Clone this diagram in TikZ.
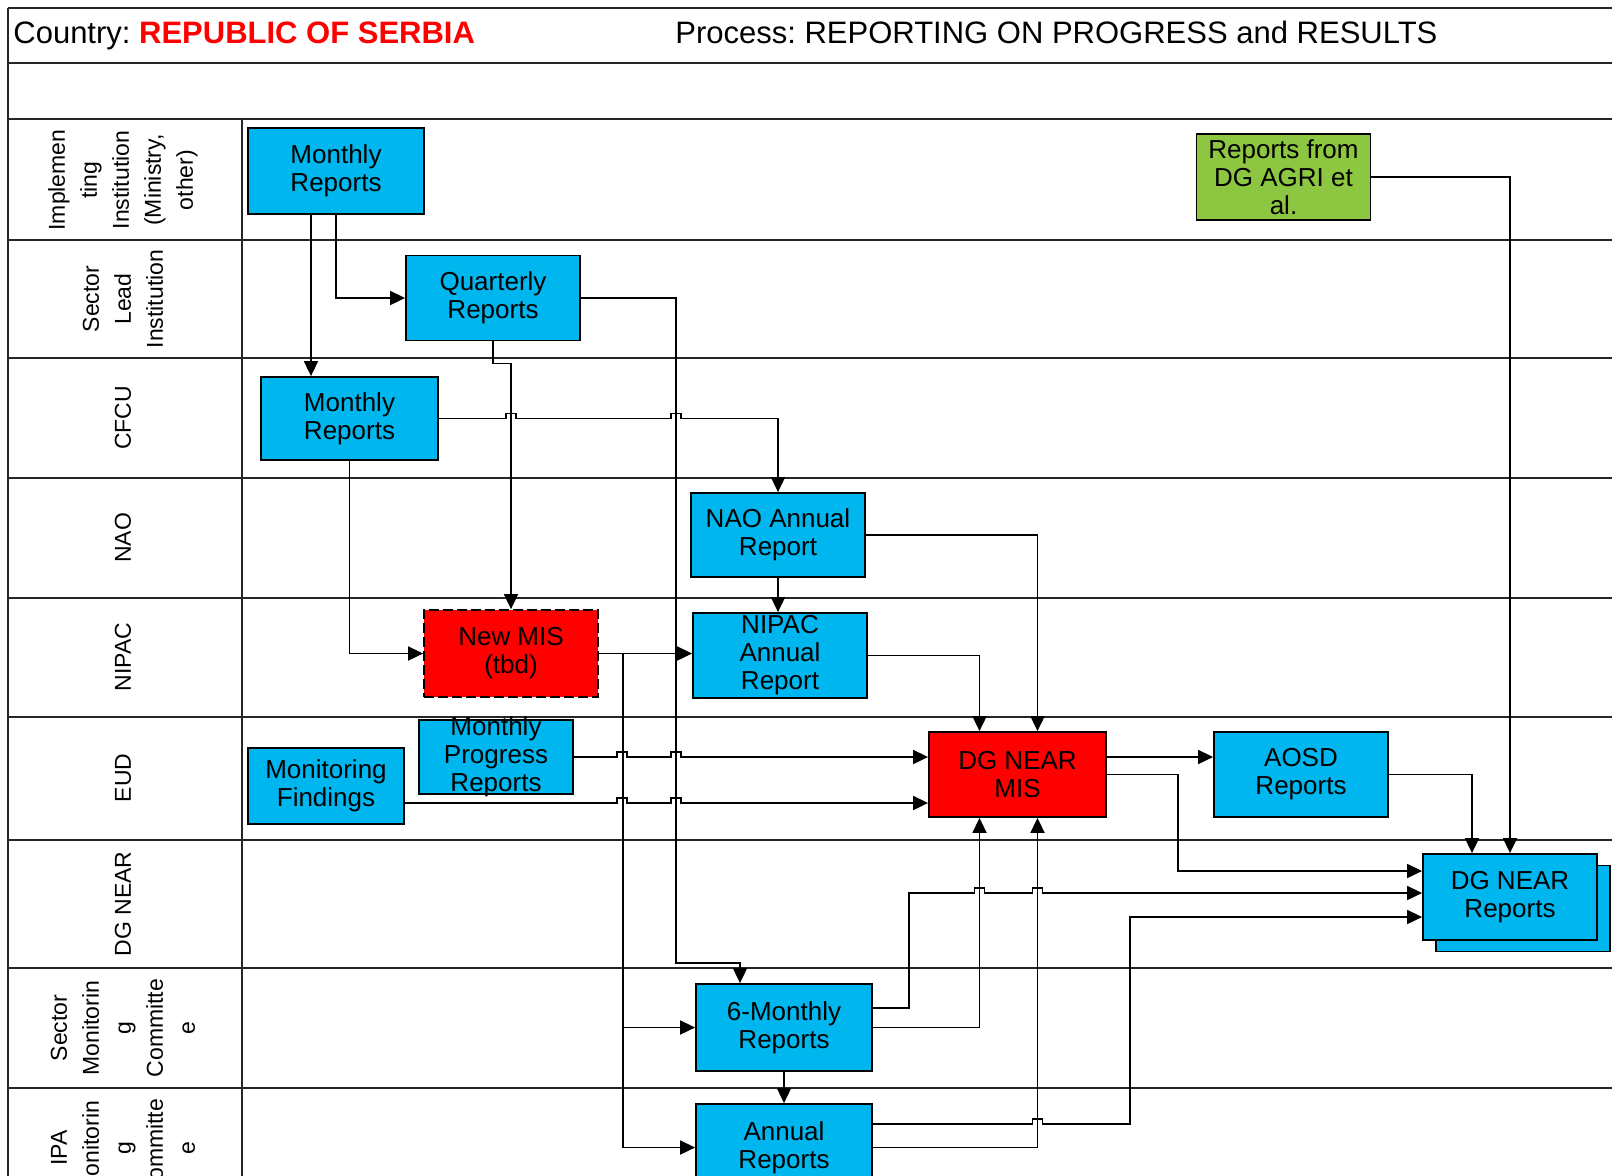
\documentclass[tikz,border=0pt]{standalone}
\usepackage{fontspec}
\setmainfont{Liberation Sans}
\usepackage{tikz}
\usetikzlibrary{arrows.meta}
\definecolor{repblue}{HTML}{00B6EE}
\definecolor{repred}{HTML}{FF0000}
\definecolor{repgreen}{HTML}{8DC640}
\newcommand{\linehop}[2]{
	-- (#1-5,#2) -- (#1-5,#2-5) -- (#1+5,#2-5) -- (#1+5,#2)
}
\frenchspacing

\begin{document}
\begin{tikzpicture}[x=0.5pt, y=-0.5pt,
	lanegrid/.style={line width=1pt, black!85},
	repbox/.style={draw, line width=.9pt, fill=repblue, minimum width=87pt, minimum height=42.5pt, inner sep=0pt, align=center, font=\fontsize{13}{14}\selectfont},
	boxtext/.style={align=center, inner sep=0pt, font=\fontsize{13}{14}\selectfont},
	lanelabel/.style={rotate=90, align=center, inner sep=0pt, font=\fontsize{11.5}{16}\selectfont},
	titletext/.style={anchor=base west, inner sep=0pt, font=\fontsize{15.5}{18}\selectfont},
	flow/.style={line width=.9pt, -{Triangle[length=7.5pt,width=7pt]}}]
\useasboundingbox (0,0) rectangle (1612,1175);
\clip (0,0) rectangle (1612,1175);

\foreach \y in {8,63,119,240,358,478,598,717,840,968,1088}
	\draw [lanegrid] (8,\y) -- (1620,\y);
\draw [lanegrid] (8,8) -- (8,1180);
\draw [lanegrid] (242,119) -- (242,1180);

\node [titletext] (country) at (13,43) {Country: \textcolor{repred}{\textbf{REPUBLIC OF SERBIA}}};
\node [titletext] (process) at (675,43) {Process: REPORTING ON PROGRESS and RESULTS};

\node [lanelabel] (laneImpl) at (123,180) {Implemen\\ting\\Institution\\(Ministry,\\other)};
\node [lanelabel] (laneSector) at (123,299) {Sector\\Lead\\Institution};
\node [lanelabel] (laneCfcu) at (123,418) {CFCU};
\node [lanelabel] (laneNao) at (123,538) {NAO};
\node [lanelabel] (laneNipac) at (123,657) {NIPAC};
\node [lanelabel] (laneEud) at (123,778) {EUD};
\node [lanelabel] (laneNear) at (123,904) {DG NEAR};
\node [lanelabel] (laneSmc) at (123,1028) {Sector\\Monitorin\\g\\Committe\\e};
\node [lanelabel] (laneIpa) at (123,1148) {IPA\\Monitorin\\g\\Committe\\e};

\node [repbox, minimum width=88pt, minimum height=43pt] (imMonthly) at (336,171) {Monthly\\Reports};
\node [repbox] (slQuarterly) at (493,298) {Quarterly\\Reports};
\node [repbox, minimum width=88.5pt, minimum height=41.5pt] (cfMonthly) at (349.5,418.5) {Monthly\\Reports};
\node [repbox, minimum height=42pt] (naoAnnual) at (778,535) {NAO Annual\\Report};
\node [repbox] (nipacAnnual) at (780,655.5) {NIPAC\\Annual\\Report};
\node [repbox, fill=repred, dash pattern=on 5pt off 2pt, minimum height=43.5pt] (newMis) at (511,653.5) {New MIS\\(tbd)};
\node [repbox, minimum width=77pt, minimum height=37pt] (eudProgress) at (496,757) {};
\node [boxtext] (eudProgressText) at (eudProgress) {Monthly\\Progress\\Reports};
\node [repbox, minimum width=78pt, minimum height=38pt] (eudFindings) at (326,786) {Monitoring\\Findings};
\node [repbox, fill=repred, minimum width=88.5pt] (dgMis) at (1017.5,774.5) {DG NEAR\\MIS};
\node [repbox] (aosd) at (1301,774.5) {AOSD\\Reports};
\node [repbox, minimum height=43pt] (dgReportsBack) at (1523,908.5) {};
\node [repbox, minimum height=43pt] (dgReports) at (1510,897) {DG NEAR\\Reports};
\node [repbox, fill=repgreen, minimum height=43pt] (agri) at (1283.5,177) {Reports from\\DG AGRI et\\al.};
\node [repbox, minimum width=88pt, minimum height=43.5pt] (smcSix) at (784,1027.5) {6-Monthly\\Reports};
\node [repbox, minimum width=88pt, minimum height=43.5pt] (ipaAnnual) at (784,1147.5) {Annual\\Reports};

\draw [flow] ([xshift=-12.5pt]imMonthly.south) -- ([xshift=-12.5pt]imMonthly.south |- cfMonthly.north);
\draw [flow] (imMonthly.south) |- (slQuarterly.west);
\draw [flow] (slQuarterly.south) -- ++(0,22) -| (newMis.north);
\draw [flow] (slQuarterly.east) -| (676,963) -| ([xshift=-22pt]smcSix.north);
\draw [flow] (cfMonthly.east) \linehop{511}{418.5} \linehop{676}{418.5} -| (naoAnnual.north);
\draw [flow] (cfMonthly.south) |- (newMis.west);
\draw [flow] (naoAnnual.south) -- (naoAnnual.south |- nipacAnnual.north);
\draw [flow] (naoAnnual.east) -| ([xshift=10pt]dgMis.north);
\draw [flow] (nipacAnnual.east) -| ([xshift=-19pt]dgMis.north);
\draw [flow] (newMis.east) -- (newMis.east -| nipacAnnual.west);
\draw [flow] ([xshift=12pt]newMis.east) |- (smcSix.west);
\draw [flow] ([xshift=12pt]newMis.east) |- (ipaAnnual.west);
\draw [flow] (eudProgress.east) \linehop{622}{757} \linehop{676}{757} -- (eudProgress.east -| dgMis.west);
\draw [flow] ([yshift=-8.5pt]eudFindings.east) \linehop{622}{803} \linehop{676}{803} -- ([yshift=-8.5pt]eudFindings.east -| dgMis.west);
\draw [flow] ([yshift=8.75pt]dgMis.east) -- ([yshift=8.75pt]aosd.west);
\draw [flow] (dgMis.east) -- (1178,774.5) |- ([yshift=13pt]dgReports.west);
\draw [flow] (aosd.east) -| ([xshift=-19pt]dgReports.north);
\draw [flow] (agri.east) -| (dgReports.north);
\draw [flow] ([yshift=9.75pt]smcSix.east) -| (909,893) \linehop{979.5}{893} \linehop{1037.5}{893} -- ([yshift=2pt]dgReports.west);
\draw [flow] (smcSix.east) -| ([xshift=-19pt]dgMis.south);
\draw [flow] ([yshift=11.75pt]ipaAnnual.east) \linehop{1037.5}{1124} -| (1130,917) -- ([yshift=-10pt]dgReports.west);
\draw [flow] (ipaAnnual.east) -| ([xshift=10pt]dgMis.south);
\draw [flow] (smcSix.south) -- (ipaAnnual.north);
\end{tikzpicture}
\end{document}
